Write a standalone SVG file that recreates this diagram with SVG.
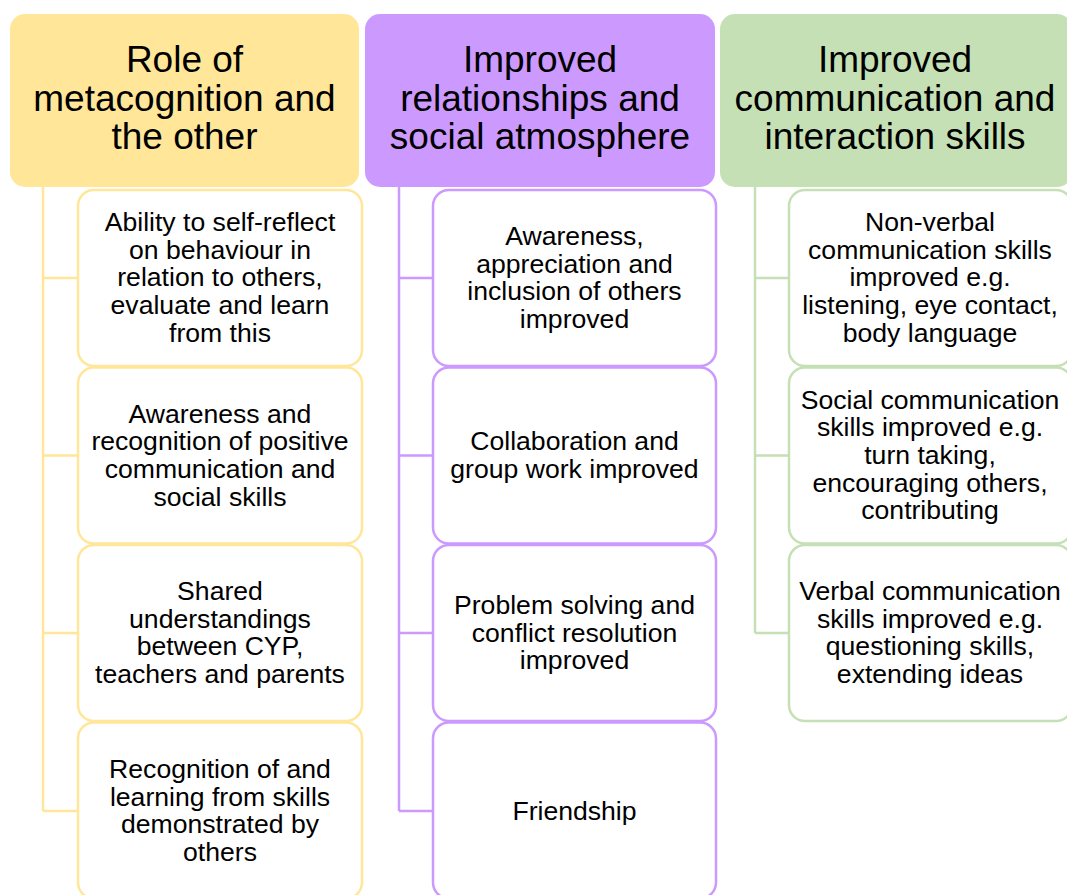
<svg xmlns="http://www.w3.org/2000/svg" width="1067" height="895" viewBox="0 0 1067 895">
<style>
.h{font-family:"Liberation Sans",Arial,sans-serif;font-size:37px;fill:#000;text-anchor:middle}
.t{font-family:"Liberation Sans",Arial,sans-serif;font-size:26.6px;fill:#000;text-anchor:middle}
.y{fill:#FFE699}.p{fill:#CC99FF}.g{fill:#C5E0B4}
.by{fill:#fff;stroke:#FFE699;stroke-width:2.5}
.bp{fill:#fff;stroke:#CC99FF;stroke-width:2.5}
.bg{fill:#fff;stroke:#C5E0B4;stroke-width:2.5}
.cy{fill:none;stroke:#FFE699;stroke-width:2.5}
.cp{fill:none;stroke:#CC99FF;stroke-width:2.5}
.cg{fill:none;stroke:#C5E0B4;stroke-width:2.5}
</style>
<rect width="1067" height="895" fill="#fff"/>
<g id="connectors">
<path class="cy" d="M43 186V811M43 278H78M43 455.5H78M43 633H78M43 811H78"/>
<path class="cp" d="M399 186V811M399 278H433M399 455.5H433M399 633H433M399 811H433"/>
<path class="cg" d="M755 186V633M755 278H789M755 455.5H789M755 633H789"/>
</g>
<g id="h1"><rect class="y" x="10" y="14" width="349" height="173" rx="15"/>
<text class="h" x="184.5"><tspan x="184.5" y="72">Role of</tspan><tspan x="184.5" y="111">metacognition and</tspan><tspan x="184.5" y="149">the other</tspan></text></g>
<g id="h2"><rect class="p" x="365" y="14" width="350" height="173" rx="15"/>
<text class="h"><tspan x="540" y="72">Improved</tspan><tspan x="540" y="111">relationships and</tspan><tspan x="540" y="149">social atmosphere</tspan></text></g>
<g id="h3"><rect class="g" x="720" y="14" width="352" height="173" rx="15"/>
<text class="h"><tspan x="895" y="72">Improved</tspan><tspan x="895" y="111">communication and</tspan><tspan x="895" y="149">interaction skills</tspan></text></g>

<g id="a1"><rect class="by" x="78" y="190" width="284" height="176" rx="16"/>
<text class="t"><tspan x="220" y="231">Ability to self-reflect</tspan><tspan x="220" y="258.7">on behaviour in</tspan><tspan x="220" y="286.4">relation to others,</tspan><tspan x="220" y="314.1">evaluate and learn</tspan><tspan x="220" y="341.8">from this</tspan></text></g>
<g id="a2"><rect class="by" x="78" y="367.5" width="284" height="176" rx="16"/>
<text class="t"><tspan x="220" y="422.5">Awareness and</tspan><tspan x="220" y="450.2">recognition of positive</tspan><tspan x="220" y="477.9">communication and</tspan><tspan x="220" y="505.6">social skills</tspan></text></g>
<g id="a3"><rect class="by" x="78" y="545" width="284" height="176" rx="16"/>
<text class="t"><tspan x="220" y="600">Shared</tspan><tspan x="220" y="627.7">understandings</tspan><tspan x="220" y="655.4">between CYP,</tspan><tspan x="220" y="683.1">teachers and parents</tspan></text></g>
<g id="a4"><rect class="by" x="78" y="722.5" width="284" height="176" rx="16"/>
<text class="t"><tspan x="220" y="778">Recognition of and</tspan><tspan x="220" y="805.7">learning from skills</tspan><tspan x="220" y="833.4">demonstrated by</tspan><tspan x="220" y="861.1">others</tspan></text></g>

<g id="b1"><rect class="bp" x="433" y="190" width="283" height="176" rx="16"/>
<text class="t"><tspan x="574.5" y="245">Awareness,</tspan><tspan x="574.5" y="272.7">appreciation and</tspan><tspan x="574.5" y="300.4">inclusion of others</tspan><tspan x="574.5" y="328.1">improved</tspan></text></g>
<g id="b2"><rect class="bp" x="433" y="367.5" width="283" height="176" rx="16"/>
<text class="t"><tspan x="574.5" y="450.2">Collaboration and</tspan><tspan x="574.5" y="477.9">group work improved</tspan></text></g>
<g id="b3"><rect class="bp" x="433" y="545" width="283" height="176" rx="16"/>
<text class="t"><tspan x="574.5" y="613.8">Problem solving and</tspan><tspan x="574.5" y="641.5">conflict resolution</tspan><tspan x="574.5" y="669.2">improved</tspan></text></g>
<g id="b4"><rect class="bp" x="433" y="722.5" width="283" height="176" rx="16"/>
<text class="t"><tspan x="574.5" y="819.5">Friendship</tspan></text></g>

<g id="c1"><rect class="bg" x="789" y="190" width="283" height="176" rx="16"/>
<text class="t"><tspan x="930" y="231">Non-verbal</tspan><tspan x="930" y="258.7">communication skills</tspan><tspan x="930" y="286.4">improved e.g.</tspan><tspan x="930" y="314.1">listening, eye contact,</tspan><tspan x="930" y="341.8">body language</tspan></text></g>
<g id="c2"><rect class="bg" x="789" y="367.5" width="283" height="176" rx="16"/>
<text class="t"><tspan x="930" y="408.6">Social communication</tspan><tspan x="930" y="436.3">skills improved e.g.</tspan><tspan x="930" y="464">turn taking,</tspan><tspan x="930" y="491.7">encouraging others,</tspan><tspan x="930" y="519.4">contributing</tspan></text></g>
<g id="c3"><rect class="bg" x="789" y="545" width="283" height="176" rx="16"/>
<text class="t"><tspan x="930" y="600">Verbal communication</tspan><tspan x="930" y="627.7">skills improved e.g.</tspan><tspan x="930" y="655.4">questioning skills,</tspan><tspan x="930" y="683.1">extending ideas</tspan></text></g>
</svg>
